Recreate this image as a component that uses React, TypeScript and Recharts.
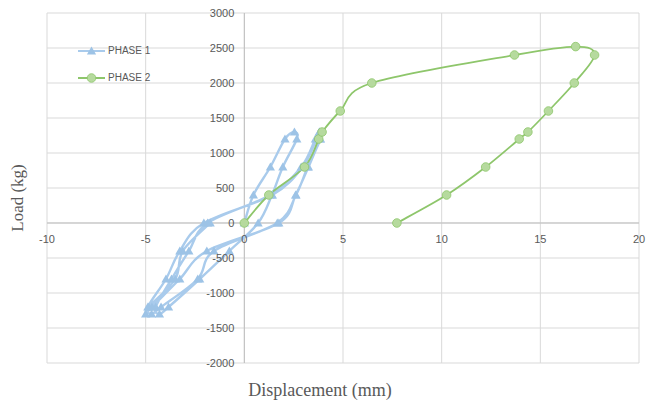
import { CartesianGrid, Legend, Line, LineChart, ReferenceLine, XAxis, YAxis } from "recharts";

// Phase 1: cyclic loading, points in test order
const PHASE1_X = [
  0, 0.46, 1.32, 2.06, 2.54, 2.66, 1.95, 1.4, 0.7,
  -0.76, -2.26, -3.84, -4.3, -4.49, -3.69, -2.81, -1.86,
  1.3, 2.88, 3.6, 3.81, 3.86, 3.21, 2.62, 1.67,
  -1.54, -2.36, -4.22, -4.7, -4.89, -3.97, -3.27, -2.05,
  1.42, 2.95, 3.66, 3.8, 3.84, 3.25, 2.6, 1.75,
  -1.9, -3.27, -4.68, -5.0, -4.84, -3.5, -3.12, -1.73,
];
const PHASE1_Y = [
  0, 400, 800, 1200, 1300, 1200, 800, 400, 0,
  -400, -800, -1200, -1300, -1200, -800, -400, 0,
  400, 800, 1200, 1300, 1200, 800, 400, 0,
  -400, -800, -1200, -1300, -1200, -800, -400, 0,
  400, 800, 1200, 1300, 1200, 800, 400, 0,
  -400, -800, -1200, -1300, -1200, -800, -400, 0,
];

const PHASE2_X = [0, 1.24, 3.05, 3.77, 3.94, 4.86, 6.46, 13.69, 16.79, 17.75, 16.72, 15.41, 14.37, 13.93, 12.23, 10.25, 7.73];
const PHASE2_Y = [0, 400, 800, 1200, 1300, 1600, 2000, 2400, 2520, 2400, 2000, 1600, 1300, 1200, 800, 400, 0];

const X_TICKS = [-10, -5, 0, 5, 10, 15, 20];
const Y_TICKS = [-2000, -1500, -1000, -500, 0, 500, 1000, 1500, 2000, 2500, 3000];
const X_DOMAIN: [number, number] = [-10, 20];
const Y_DOMAIN: [number, number] = [-2000, 3000];

const SERIES = [
  { name: "PHASE 1", line: "#A9CBEC", marker: "#9DC3E6", shape: "triangle" },
  { name: "PHASE 2", line: "#8EC66B", marker: "#B6DA9E", shape: "circle" },
];

const WIDTH = 656;
const HEIGHT = 413;
const MARGIN = { top: 13, right: 17, bottom: 49, left: 46 };
const AXIS_SIZE = 1;
const PLOT_LEFT = MARGIN.left + AXIS_SIZE;
const PLOT_W = WIDTH - PLOT_LEFT - MARGIN.right;
const PLOT_H = HEIGHT - MARGIN.top - MARGIN.bottom - AXIS_SIZE;
// axes cross at zero
const ZERO_X = PLOT_LEFT + (PLOT_W * (0 - X_DOMAIN[0])) / (X_DOMAIN[1] - X_DOMAIN[0]);
const ZERO_Y = MARGIN.top + (PLOT_H * (Y_DOMAIN[1] - 0)) / (Y_DOMAIN[1] - Y_DOMAIN[0]);

const TICK_FONT = "'Liberation Sans', Arial, sans-serif";
const TITLE_FONT = "'Liberation Serif', 'Times New Roman', serif";

const phase1 = PHASE1_X.map((x, i) => ({ x, y: PHASE1_Y[i] }));
const phase2 = PHASE2_X.map((x, i) => ({ x, y: PHASE2_Y[i] }));

// Excel-like smoothing (Catmull-Rom through every point, works for loops)
function smoothCurve(context: any) {
  let pts: number[][] = [];
  return {
    areaStart() {},
    areaEnd() {},
    lineStart() {
      pts = [];
    },
    point(x: number, y: number) {
      pts.push([+x, +y]);
    },
    lineEnd() {
      if (!pts.length) return;
      context.moveTo(pts[0][0], pts[0][1]);
      for (let i = 0; i < pts.length - 1; i++) {
        const p0 = pts[i - 1] || pts[i];
        const p1 = pts[i];
        const p2 = pts[i + 1];
        const p3 = pts[i + 2] || p2;
        context.bezierCurveTo(
          p1[0] + (p2[0] - p0[0]) / 6,
          p1[1] + (p2[1] - p0[1]) / 6,
          p2[0] - (p3[0] - p1[0]) / 6,
          p2[1] - (p3[1] - p1[1]) / 6,
          p2[0],
          p2[1]
        );
      }
    },
  };
}

function Marker({ cx, cy, shape, fill, stroke }: any) {
  if (shape === "triangle") {
    return <path d={`M${cx},${cy - 4.5}L${cx + 4.6},${cy + 3.6}L${cx - 4.6},${cy + 3.6}Z`} fill={fill} />;
  }
  return <circle cx={cx} cy={cy} r={4.3} fill={fill} stroke={stroke} strokeWidth={0.8} />;
}

const triangleDot = (props: any) => {
  const { cx, cy, index } = props;
  if (cx == null || cy == null) return <g key={`t-${index}`} />;
  return <Marker key={`t-${index}`} cx={cx} cy={cy} shape="triangle" fill={SERIES[0].marker} />;
};

const circleDot = (props: any) => {
  const { cx, cy, index } = props;
  if (cx == null || cy == null) return <g key={`c-${index}`} />;
  return <Marker key={`c-${index}`} cx={cx} cy={cy} shape="circle" fill={SERIES[1].marker} stroke={SERIES[1].line} />;
};

const renderXTick = (props: any) => {
  const { x, payload, index } = props;
  return (
    <text key={`xt-${index}`} x={x} y={ZERO_Y + 20} textAnchor="middle" fontSize={11} fontFamily={TICK_FONT} fill="#595959">
      {payload.value}
    </text>
  );
};

const renderYTick = (props: any) => {
  const { y, payload, index } = props;
  return (
    <text key={`yt-${index}`} x={ZERO_X - 10} y={y} dy={4} textAnchor="end" fontSize={11} fontFamily={TICK_FONT} fill="#595959">
      {payload.value}
    </text>
  );
};

function LegendBox() {
  return (
    <div>
      {SERIES.map((s) => (
        <div key={s.name} style={{ display: "flex", alignItems: "center", height: 27 }}>
          <svg width={30} height={12}>
            <line x1={1} x2={28} y1={6} y2={6} stroke={s.line} strokeWidth={2} />
            <Marker cx={14.5} cy={6} shape={s.shape} fill={s.marker} stroke={s.line} />
          </svg>
          <span style={{ fontFamily: TICK_FONT, fontSize: 10, color: "#595959", marginLeft: 1 }}>{s.name}</span>
        </div>
      ))}
    </div>
  );
}

export default function App() {
  return (
    <div style={{ position: "absolute", left: 0, top: 0, width: WIDTH, height: HEIGHT, background: "#fff" }}>
      <LineChart width={WIDTH} height={HEIGHT} margin={MARGIN}>
        <CartesianGrid stroke="#D9D9D9" strokeWidth={1} />
        <XAxis
          type="number"
          dataKey="x"
          domain={X_DOMAIN}
          ticks={X_TICKS}
          interval={0}
          allowDataOverflow
          axisLine={false}
          tickLine={false}
          height={AXIS_SIZE}
          tick={renderXTick}
        />
        <YAxis
          type="number"
          dataKey="y"
          domain={Y_DOMAIN}
          ticks={Y_TICKS}
          interval={0}
          allowDataOverflow
          axisLine={false}
          tickLine={false}
          width={AXIS_SIZE}
          tick={renderYTick}
        />
        <ReferenceLine x={0} stroke="#BFBFBF" strokeWidth={1} />
        <ReferenceLine y={0} stroke="#BFBFBF" strokeWidth={1} />
        <Legend
          layout="vertical"
          align="center"
          verticalAlign="middle"
          wrapperStyle={{ top: 37, left: 77, width: 120 }}
          content={<LegendBox />}
        />
        <Line
          data={phase1}
          dataKey="y"
          name={SERIES[0].name}
          type={smoothCurve as any}
          stroke={SERIES[0].line}
          strokeWidth={2.4}
          dot={triangleDot}
          activeDot={false}
          isAnimationActive={false}
        />
        <Line
          data={phase2}
          dataKey="y"
          name={SERIES[1].name}
          type={smoothCurve as any}
          stroke={SERIES[1].line}
          strokeWidth={1.8}
          dot={circleDot}
          activeDot={false}
          isAnimationActive={false}
        />
      </LineChart>
      <div
        style={{
          position: "absolute",
          left: 0,
          top: 380,
          width: 640,
          textAlign: "center",
          fontFamily: TITLE_FONT,
          fontSize: 18,
          color: "#595959",
        }}
      >
        Displacement (mm)
      </div>
      <div
        style={{
          position: "absolute",
          left: 18,
          top: 198,
          transform: "translate(-50%, -50%) rotate(-90deg)",
          whiteSpace: "nowrap",
          fontFamily: TITLE_FONT,
          fontSize: 17,
          color: "#595959",
        }}
      >
        Load (kg)
      </div>
    </div>
  );
}
